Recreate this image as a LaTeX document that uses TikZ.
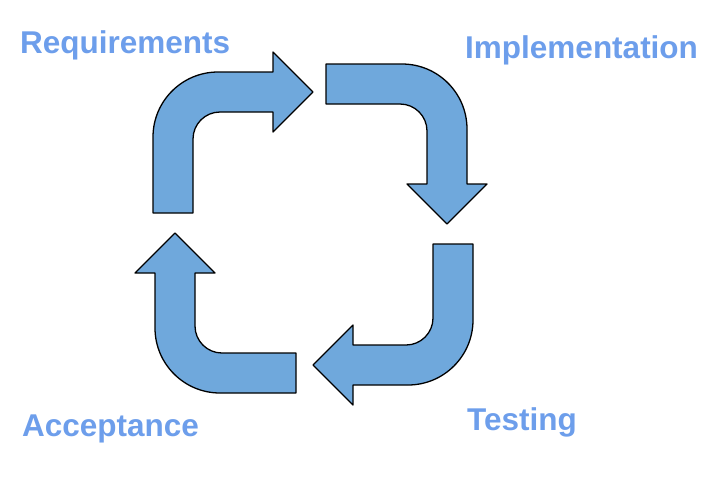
\documentclass[tikz,border=0pt]{standalone}
\usepackage{fontspec}
\setmainfont{Liberation Sans}
\usepackage{tikz}
\definecolor{arrowfill}{HTML}{6FA8DC}
\definecolor{labelblue}{HTML}{6D9EEB}
\tikzset{
	bentarrow/.pic={
		\draw[line width=1.3pt, line join=round, fill=arrowfill]
			(0,-141) -- (0,-65) arc (180:90:65) -- (120,0) -- (120,20)
			-- (160,-20) -- (120,-60) -- (120,-40) -- (67,-40)
			arc (90:180:27) -- (40,-141) -- cycle;
	},
	phase/.style={anchor=base west, inner sep=0pt, text=labelblue,
		font=\fontsize{31.5}{36}\selectfont\bfseries}
}

\begin{document}
\begin{tikzpicture}[x=1pt, y=1pt]
	\useasboundingbox (0,0) rectangle (728,-483);
	
	\pic at (153,-72) {bentarrow};
	\pic[rotate=-90] at (467,-64) {bentarrow};
	\pic[rotate=180] at (473,-385) {bentarrow};
	\pic[rotate=90] at (155,-393) {bentarrow};
	
	\node[phase] (req) at (20,-53) {Requirements};
	\node[phase] (impl) at (465,-58) {Implementation};
	\node[phase] (test) at (467,-430) {Testing};
	\node[phase] (acc) at (22,-436) {Acceptance};
\end{tikzpicture}
\end{document}
